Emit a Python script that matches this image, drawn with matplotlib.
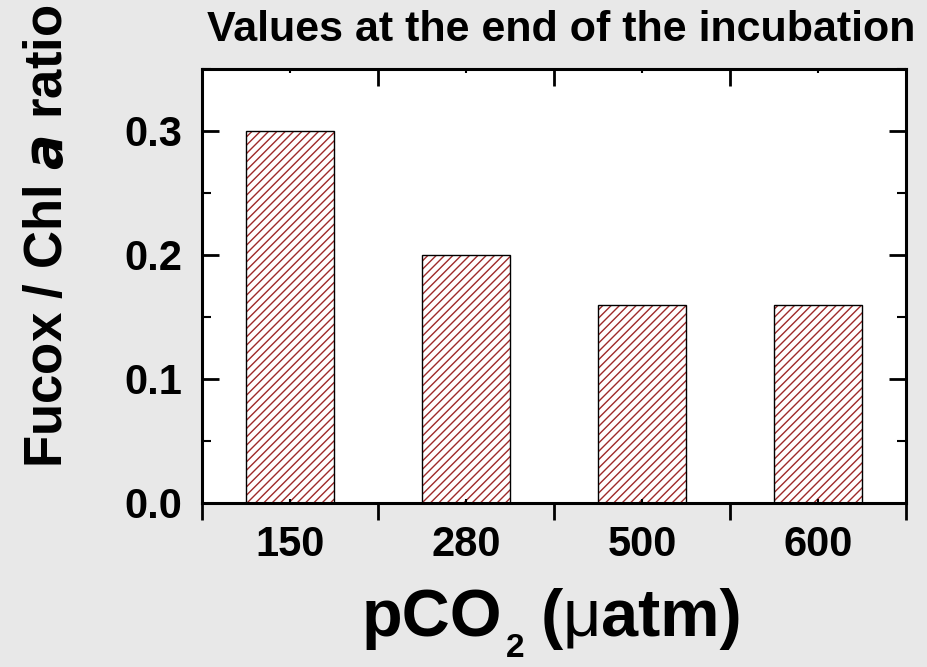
import matplotlib
matplotlib.use("Agg")
import matplotlib.pyplot as plt
from matplotlib.ticker import MultipleLocator, FixedLocator, NullFormatter, FormatStrFormatter
from matplotlib.lines import TICKDOWN

plt.rcParams['font.family'] = ['Liberation Sans', 'DejaVu Sans']
plt.rcParams['font.weight'] = 'bold'
plt.rcParams['hatch.linewidth'] = 1.0

# data
pco2 = ['150', '280', '500', '600']
ratio = [0.30, 0.20, 0.16, 0.16]

W, H = 927, 667
fig = plt.figure(figsize=(W / 100, H / 100), dpi=100, facecolor='#e8e8e8')
ax = fig.add_axes([202/W, 1 - 503/H, 704/W, 434/H])
ax.set_facecolor('white')

pos = list(range(1, len(pco2) + 1))
# hatch in dark red, outline in black
ax.bar(pos, ratio, width=0.5, color='white', edgecolor='#9e2a2a',
       linewidth=0, hatch='////')
ax.bar(pos, ratio, width=0.5, fill=False, edgecolor='black', linewidth=1.0)

ax.set_xlim(0.5, len(pco2) + 0.5)
ax.set_ylim(0, 0.35)

# x: labels at bar centres (minor), major ticks between categories
ax.xaxis.set_major_locator(FixedLocator([p + 0.5 for p in range(len(pco2) + 1)]))
ax.xaxis.set_major_formatter(NullFormatter())
ax.xaxis.set_minor_locator(FixedLocator(pos))
ax.set_xticklabels(pco2, minor=True)
ax.tick_params(axis='x', which='major', direction='out', length=12, width=2,
               top=True, bottom=True)
ax.tick_params(axis='x', which='minor', direction='in', length=3, width=1.5,
               top=True, bottom=True, labelsize=30, pad=16)
for t in ax.xaxis.get_major_ticks():
    t.tick2line.set_marker(TICKDOWN)

ax.yaxis.set_major_locator(MultipleLocator(0.1))
ax.yaxis.set_minor_locator(MultipleLocator(0.05))
ax.yaxis.set_major_formatter(FormatStrFormatter('%.1f'))
ax.tick_params(axis='y', which='major', direction='in', length=12, width=2,
               left=True, right=True, labelsize=30, pad=14)
ax.tick_params(axis='y', which='minor', direction='in', length=6.5, width=1.5,
               left=True, right=True)

for s in ax.spines.values():
    s.set_linewidth(2.2)

# title
fig.text(561/W, 1 - 41/H, 'Values at the end of the incubation',
         fontsize=31, fontweight='bold', ha='center', va='baseline')

# y label
fig.text(48/W, 1 - 236/H, 'Fucox / Chl $\\mathbf{\\mathit{a}}$ ratio',
         fontsize=38, fontweight='bold', rotation=90, ha='center', va='center')

# x label, built from pieces so the subscript sits low like the original
fig.canvas.draw()
renderer = fig.canvas.get_renderer()
x = 362
base = 1 - 636/H
pieces = [('pCO', 48, 'bold', 0, 3),
          ('2', 24, 'bold', 21, 16),
          ('(', 48, 'bold', 0, 0),
          ('\u03bc', 48, 'normal', 0, 0),
          ('atm)', 48, 'bold', 0, 0)]
for txt, size, weight, drop, gap in pieces:
    t = fig.text(x / W, base - drop / H, txt, fontsize=size, fontweight=weight,
                 ha='left', va='baseline')
    bb = t.get_window_extent(renderer)
    x += bb.width + gap

fig.savefig('out.png', dpi=100, facecolor=fig.get_facecolor())
